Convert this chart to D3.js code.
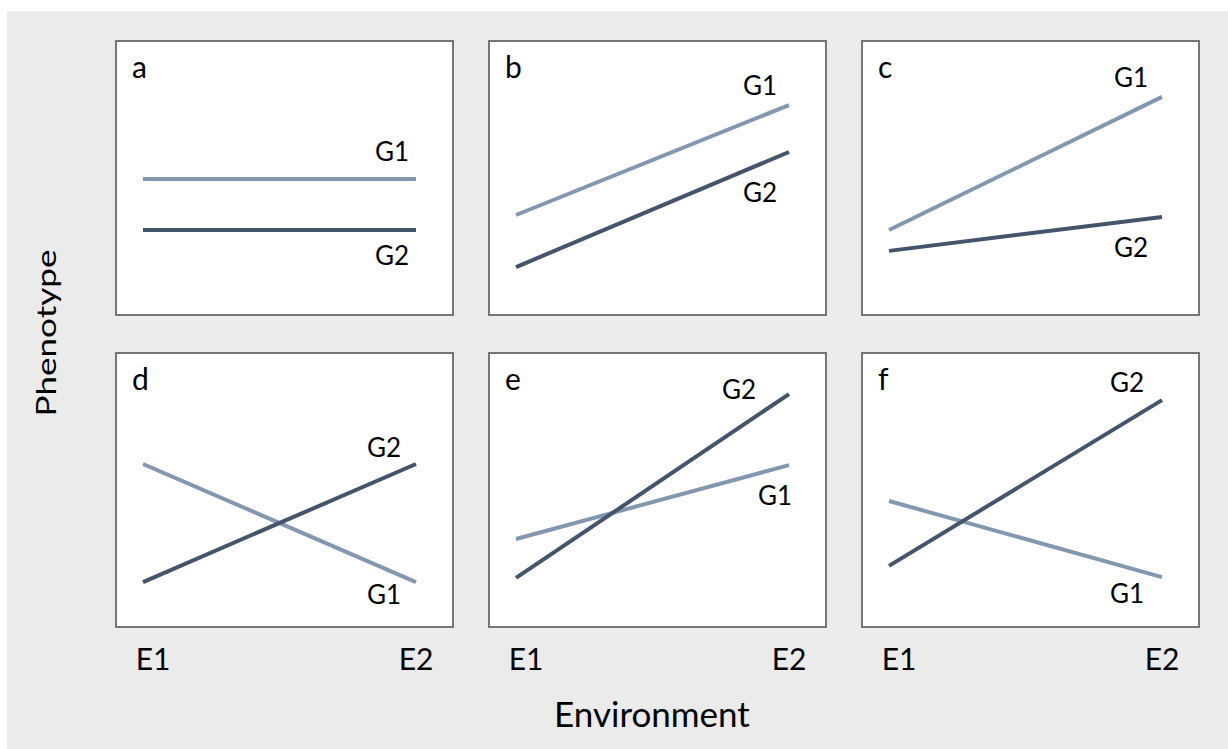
<!DOCTYPE html>
<html>
<head>
<meta charset="utf-8">
<script src="https://cdn.jsdelivr.net/npm/d3@7"></script>
<style>
  html, body { margin: 0; padding: 0; background: #ffffff; }
  svg { display: block; }
  text { font-family: Lato, "Open Sans", sans-serif; fill: #000; }
</style>
</head>
<body>
<svg id="chart" width="1228" height="749"></svg>
<script>
// ---------- data ----------
const panelNames = ["a", "b", "c", "d", "e", "f"];
const environments = ["E1", "E2"];
const genotypes = ["G1", "G2"];
// phenotype values (arbitrary 0-10 scale) at E1 and E2
const g1Values = [
  [4.96, 4.96],
  [3.65, 7.66],
  [3.10, 7.96],
  [5.95, 1.64],
  [3.21, 5.91],
  [4.60, 1.82]
];
const g2Values = [
  [3.10, 3.10],
  [1.75, 5.95],
  [2.34, 3.58],
  [1.64, 5.95],
  [1.79, 8.50],
  [2.23, 8.28]
];
const xAxisTitle = "Environment";
const yAxisTitle = "Phenotype";

// ---------- layout / style ----------
const colors = { G1: "#8497b0", G2: "#44546a" };
// label offsets (dx from E2 position, dy from line end) per panel
const labelOffsets = [
  { G1: [-24, -18], G2: [-24, 35] },
  { G1: [-29, -10], G2: [-29, 50] },
  { G1: [-31, -10], G2: [-31, 40] },
  { G1: [-32, 22],  G2: [-32, -7] },
  { G1: [-14, 40],  G2: [-50, 5] },
  { G1: [-35, 26],  G2: [-35, -8] }
];

const svg = d3.select("#chart");
svg.append("rect").attr("x", 7).attr("y", 11).attr("width", 1221).attr("height", 738).attr("fill", "#ebebeb");

const colScale = d3.scaleBand().domain([0, 1, 2]).range([116, 1199]).paddingInner(36 / 373);
const rowScale = d3.scaleBand().domain([0, 1]).range([41, 627]).paddingInner(38 / 312);
const pw = colScale.bandwidth();
const ph = rowScale.bandwidth();

const x = d3.scalePoint().domain(environments).range([27, 300]);
const y = d3.scaleLinear().domain([0, 10]).range([ph, 0]);

const line = d3.line().x(d => x(d.env)).y(d => y(d.v));

panelNames.forEach((name, i) => {
  const col = i % 3, row = Math.floor(i / 3);
  const g = svg.append("g").attr("transform", `translate(${colScale(col)},${rowScale(row)})`);
  g.append("rect").attr("x", 0).attr("y", 0).attr("width", pw).attr("height", ph)
    .attr("fill", "#ffffff").attr("stroke", "#767676").attr("stroke-width", 2);
  g.append("text").attr("x", 16).attr("y", 37).style("font-size", "30px").text(name);

  const series = [
    { key: "G1", vals: g1Values[i] },
    { key: "G2", vals: g2Values[i] }
  ];
  series.forEach(s => {
    const pts = environments.map((e, j) => ({ env: e, v: s.vals[j] }));
    g.append("path").attr("d", line(pts)).attr("fill", "none")
      .attr("stroke", colors[s.key]).attr("stroke-width", 4);
    const off = labelOffsets[i][s.key];
    g.append("text")
      .attr("x", x("E2") + off[0])
      .attr("y", y(s.vals[1]) + off[1])
      .attr("text-anchor", "middle")
      .style("font-size", "26px")
      .text(s.key);
  });

  if (row === 1) {
    const tickShift = { E1: 10, E2: 0 };
    g.selectAll("text.tick").data(environments).enter().append("text")
      .attr("class", "tick")
      .attr("x", d => x(d) + tickShift[d])
      .attr("y", ph + 43)
      .attr("text-anchor", "middle")
      .style("font-size", "30px")
      .text(d => d);
  }
});

svg.append("text").attr("x", 652).attr("y", 727).attr("text-anchor", "middle")
  .style("font-size", "35px").text(xAxisTitle);

svg.append("text")
  .attr("transform", "translate(56,333) rotate(-90)")
  .attr("text-anchor", "middle")
  .attr("textLength", 167).attr("lengthAdjust", "spacingAndGlyphs")
  .style("font-size", "27px").text(yAxisTitle);
</script>
</body>
</html>
